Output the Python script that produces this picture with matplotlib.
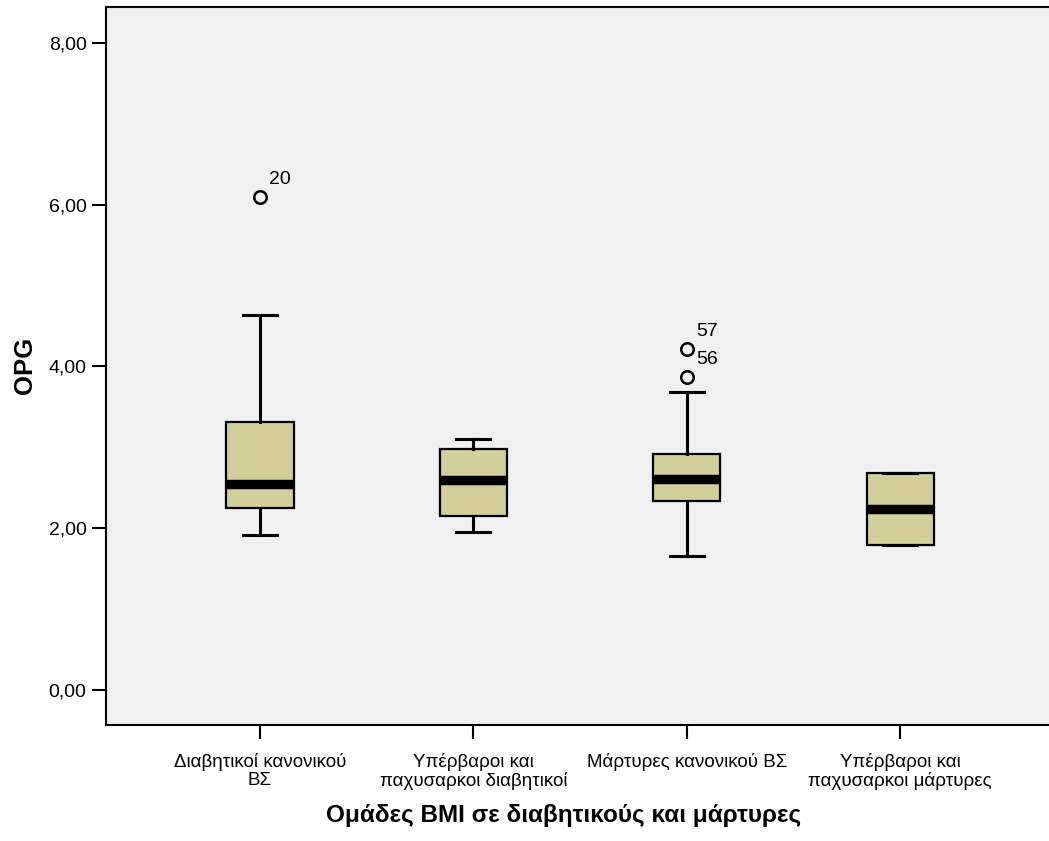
import matplotlib.pyplot as plt

plt.rcParams['font.family'] = ['Liberation Sans', 'DejaVu Sans']

groups = ["Διαβητικοί κανονικού\nΒΣ", "Υπέρβαροι και\nπαχυσαρκοι διαβητικοί",
          "Μάρτυρες κανονικού ΒΣ", "Υπέρβαροι και\nπαχυσαρκοι μάρτυρες"]
whislo = [1.92, 1.95, 1.65, 1.79]
q1 = [2.25, 2.15, 2.33, 1.79]
med = [2.55, 2.60, 2.61, 2.24]
q3 = [3.31, 2.98, 2.92, 2.68]
whishi = [4.64, 3.10, 3.68, 2.68]
outliers = [[6.09], [], [3.87, 4.21], []]
outlier_ids = [["20"], [], ["56", "57"], []]

yticks = [0, 2, 4, 6, 8]

stats = []
for i in range(len(groups)):
    stats.append(dict(whislo=whislo[i], q1=q1[i], med=med[i], q3=q3[i],
                      whishi=whishi[i], fliers=outliers[i]))

fig = plt.figure(figsize=(10.49, 8.41), dpi=100)
ax = fig.add_axes([0.101, 0.138, 0.904, 0.854])
ax.set_facecolor('#F0F0F0')

positions = [1, 2, 3, 4]
ax.bxp(stats, positions=positions, widths=0.315, patch_artist=True,
       boxprops=dict(facecolor='#D3CF9B', edgecolor='black', linewidth=1.6),
       medianprops=dict(color='black', linewidth=6.8, solid_capstyle='butt'),
       whiskerprops=dict(color='black', linewidth=2.2),
       capprops=dict(color='black', linewidth=2.2),
       capwidths=0.16,
       flierprops=dict(marker='o', markersize=9, markerfacecolor='none',
                       markeredgecolor='black', markeredgewidth=1.8))

# case numbers next to the outliers
for x, vals, ids in zip(positions, outliers, outlier_ids):
    for v, lab in zip(vals, ids):
        ax.annotate(lab, (x, v), xytext=(6.5, 12.5), textcoords='offset points',
                    ha='left', va='center', fontsize=14)

ax.set_xlim(0.278, 4.722)
ax.set_ylim(-0.433, 8.445)
ax.set_yticks(yticks)
ax.set_yticklabels([f"{t:.2f}".replace('.', ',') for t in yticks], fontsize=14)
ax.set_xticks(positions)
ax.set_xticklabels(groups, fontsize=13.5, linespacing=1.1)
ax.tick_params(axis='both', direction='out', length=10, width=1.5, colors='black')
ax.tick_params(axis='y', pad=4)
ax.tick_params(axis='x', pad=10)

for s in ['left', 'bottom', 'top']:
    ax.spines[s].set_linewidth(1.5)
ax.spines['right'].set_visible(False)

ax.set_ylabel("OPG", fontsize=18.5, fontweight='bold')
ax.yaxis.set_label_coords(-0.073, 0.5)
ax.set_xlabel("Ομάδες BMI σε διαβητικούς και μάρτυρες", fontsize=17.5,
              fontweight='bold')
ax.xaxis.set_label_coords(0.483, -0.126)
ax.xaxis.label.set_va('center')

fig.savefig('out.png', dpi=100)
